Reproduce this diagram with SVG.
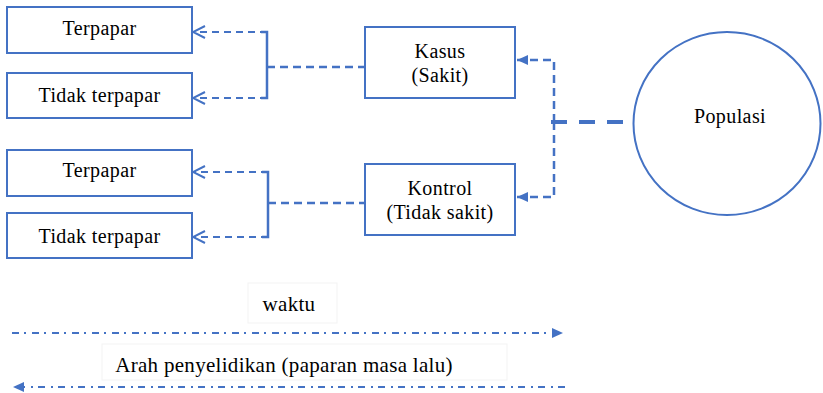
<svg xmlns="http://www.w3.org/2000/svg" width="823" height="393" viewBox="0 0 823 393">
<style>
.box{fill:#fff;stroke:#4472C4;stroke-width:2}
.t{font-family:"Liberation Serif","Times New Roman",serif;font-size:20px;fill:#000;text-anchor:middle;letter-spacing:0.4px}
.tb{font-family:"Liberation Serif","Times New Roman",serif;font-size:21px;fill:#000;text-anchor:middle;letter-spacing:0.3px}
.dl{fill:none;stroke:#4472C4;stroke-width:2;stroke-dasharray:7 5}
.br{fill:none;stroke:#4472C4;stroke-width:2.5}
.dm{fill:none;stroke:#4472C4;stroke-width:2.5;stroke-dasharray:8 5}
.dk{fill:none;stroke:#4472C4;stroke-width:4;stroke-dasharray:16 12}
.dd{fill:none;stroke:#4472C4;stroke-width:2;stroke-dasharray:7 5 2 6}
.lb{fill:#fff;stroke:#f3f3f3;stroke-width:1}
</style>
<defs>
<marker id="open" markerUnits="userSpaceOnUse" markerWidth="16" markerHeight="16" viewBox="0 0 16 16" refX="15" refY="8" orient="auto">
<path d="M3 2 L15 8 L3 14" fill="none" stroke="#4472C4" stroke-width="2"/>
</marker>
<marker id="fill" markerUnits="userSpaceOnUse" markerWidth="12" markerHeight="12" viewBox="0 0 12 12" refX="11" refY="6" orient="auto">
<path d="M0 1 L11 6 L0 11 Z" fill="#4472C4"/>
</marker>
</defs>

<g id="terpapar1"><rect class="box" x="7" y="7" width="185" height="46"/><text class="t" x="99.5" y="35">Terpapar</text></g>
<g id="tidak1"><rect class="box" x="7" y="73" width="185" height="45"/><text class="t" x="99.5" y="101.5">Tidak terpapar</text></g>
<g id="terpapar2"><rect class="box" x="7" y="150" width="185" height="46"/><text class="t" x="99.5" y="177">Terpapar</text></g>
<g id="tidak2"><rect class="box" x="7" y="213" width="185" height="45"/><text class="t" x="99.5" y="243">Tidak terpapar</text></g>
<g id="kasus"><rect class="box" x="365" y="27" width="150" height="71"/><text class="t" x="440" y="58">Kasus</text><text class="t" x="440" y="82">(Sakit)</text></g>
<g id="kontrol"><rect class="box" x="365" y="164" width="150" height="71"/><text class="t" x="440" y="195">Kontrol</text><text class="t" x="440" y="219">(Tidak sakit)</text></g>
<g id="populasi"><ellipse cx="727" cy="123.5" rx="93.5" ry="91.5" fill="#fff" stroke="#4472C4" stroke-width="2"/><text class="t" x="730" y="123">Populasi</text></g>

<g id="connectors">
<path class="dl" d="M267 32 H193" marker-end="url(#open)"/>
<path class="dl" d="M267 98 H193" marker-end="url(#open)"/>
<path class="br" d="M261 32 H267 V98 H261"/>
<path class="dm" d="M267 67 H365"/>
<path class="dl" d="M268 172 H193" marker-end="url(#open)"/>
<path class="dl" d="M268 237 H193" marker-end="url(#open)"/>
<path class="br" d="M262 172 H268 V237 H262"/>
<path class="dm" d="M268 203 H365"/>
<path class="dm" d="M554 122 V60 H517" marker-end="url(#fill)"/>
<path class="dm" d="M554 122 V197 H517" marker-end="url(#fill)"/>
<path class="dk" d="M551 122 H623"/>
</g>

<g id="timeline">
<rect class="lb" x="248" y="283" width="89" height="40"/>
<text class="tb" x="289" y="311">waktu</text>
<path class="dd" d="M12 333 H563" marker-end="url(#fill)"/>
<rect class="lb" x="102" y="344" width="405" height="36"/>
<text class="tb" x="284" y="372">Arah penyelidikan (paparan masa lalu)</text>
<path class="dd" d="M565 387 H13" marker-end="url(#fill)"/>
</g>
</svg>
